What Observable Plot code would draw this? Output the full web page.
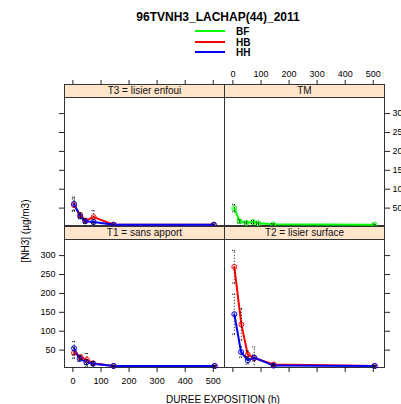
<!DOCTYPE html>
<html>
<head>
<meta charset="utf-8">
<script src="https://cdn.jsdelivr.net/npm/d3@7"></script>
<script src="https://cdn.jsdelivr.net/npm/@observablehq/plot@0.6"></script>
<style>
  html, body { margin: 0; padding: 0; background: #fff; }
  #wrap { position: relative; width: 401px; height: 404px; overflow: hidden; font-family: "Liberation Sans", Arial, sans-serif; color: #000; }
  .abs { position: absolute; }
  .strip { position: absolute; box-sizing: border-box; background: #FFE5CC; border: 1px solid #333; font-size: 10px; text-align: center; color: #111; }
  svg.panel { position: absolute; background: transparent; overflow: visible; }
</style>
</head>
<body>
<div id="wrap"></div>
<script>
// ---- data ----
const xTicks = [0, 100, 200, 300, 400, 500];
const yTicks = [50, 100, 150, 200, 250, 300];
const seriesNames = ["BF", "HB", "HH"];
const seriesColors = ["#00FF00", "#FF0000", "#0000FF"];
const panelNames = ["T3 = lisier enfoui", "TM", "T1 = sans apport", "T2 = lisier surface"];

// T3 = lisier enfoui
const t3HbTime = [4, 26, 44, 74, 145, 502];
const t3HbNh3  = [58, 32, 17, 26, 6, 6];
const t3HbErr  = [16, 6, 5, 17, 2, 2];
const t3HhTime = [4, 26, 44, 74, 145, 502];
const t3HhNh3  = [61, 28, 15, 13, 6, 6];
const t3HhErr  = [18, 6, 5, 8, 2, 2];
// TM
const tmBfTime = [5, 24, 48, 72, 90, 144, 505];
const tmBfNh3  = [50, 15, 11, 13, 10, 7, 6];
const tmBfErr  = [10, 4, 3, 4, 3, 2, 2];
// T1 = sans apport
const t1HbTime = [4, 28, 50, 72, 145, 505];
const t1HbNh3  = [43, 31, 24, 15, 8, 8];
const t1HbErr  = [15, 6, 17, 5, 2, 2];
const t1HhTime = [4, 24, 48, 72, 145, 505];
const t1HhNh3  = [55, 27, 18, 14, 8, 8];
const t1HhErr  = [18, 7, 6, 5, 2, 2];
// T2 = lisier surface
const t2HbTime = [5, 30, 53, 76, 145, 505];
const t2HbNh3  = [270, 118, 38, 29, 12, 8];
const t2HbErr  = [43, 42, 10, 8, 3, 2];
const t2HhTime = [5, 29, 53, 76, 145, 505];
const t2HhNh3  = [145, 45, 23, 30, 9, 8];
const t2HhErr  = [53, 14, 10, 28, 3, 2];

function rows(panel, series, time, nh3, err) {
  return time.map((t, i) => ({panel, series, time: t, nh3: nh3[i], lo: nh3[i] - err[i], hi: nh3[i] + err[i]}));
}
const table = [
  ...rows(panelNames[0], "HB", t3HbTime, t3HbNh3, t3HbErr),
  ...rows(panelNames[0], "HH", t3HhTime, t3HhNh3, t3HhErr),
  ...rows(panelNames[1], "BF", tmBfTime, tmBfNh3, tmBfErr),
  ...rows(panelNames[2], "HB", t1HbTime, t1HbNh3, t1HbErr),
  ...rows(panelNames[2], "HH", t1HhTime, t1HhNh3, t1HhErr),
  ...rows(panelNames[3], "HB", t2HbTime, t2HbNh3, t2HbErr),
  ...rows(panelNames[3], "HH", t2HhTime, t2HhNh3, t2HhErr)
];

// ---- layout ----
const wrap = document.getElementById("wrap");
const PW = 160, PH = 141, STRIP = 13, M = 45;
const layout = [
  {name: panelNames[0], left: 64,  top: 84,  top_: "ticks",  left_: "ticks"},
  {name: panelNames[1], left: 224, top: 84,  top_: "labels", right_: "labels"},
  {name: panelNames[2], left: 64,  top: 226, bottom_: "labels", left_: "labels"},
  {name: panelNames[3], left: 224, top: 226, bottom_: "ticks",  right_: "ticks"}
];

function axisOpts(mode, anchor) {
  return {
    anchor, tickSize: 5,
    tickPadding: anchor === "bottom" ? 5 : anchor === "top" ? 3 : anchor === "left" ? 4 : 3,
    tickFormat: mode === "labels" ? (d => String(d)) : (() => ""),
    label: null, stroke: "#222"
  };
}

for (const p of layout) {
  const data = table.filter(d => d.panel === p.name);
  const marks = [
    Plot.frame({stroke: "#333"}),
    Plot.line(data, {x: "time", y: "nh3", z: "series", stroke: "series", strokeWidth: 2}),
    Plot.dot(data, {x: "time", y: "nh3", stroke: "series", r: 2.5, strokeWidth: 1, fill: "none"}),
    Plot.ruleX(data, {x: "time", y1: "lo", y2: "hi", stroke: "#000", strokeWidth: 1, strokeDasharray: "1,2", clip: true}),
    Plot.ruleY(data, {y: "lo", x1: d => d.time - 6, x2: d => d.time + 6, stroke: "#000", strokeWidth: 1, strokeDasharray: "1,1", clip: true}),
    Plot.ruleY(data, {y: "hi", x1: d => d.time - 6, x2: d => d.time + 6, stroke: "#000", strokeWidth: 1, strokeDasharray: "1,1", clip: true})
  ];
  if (p.top_) marks.push(Plot.axisX(xTicks, axisOpts(p.top_, "top")));
  if (p.bottom_) marks.push(Plot.axisX(xTicks, axisOpts(p.bottom_, "bottom")));
  if (p.left_) marks.push(Plot.axisY(yTicks, axisOpts(p.left_, "left")));
  if (p.right_) marks.push(Plot.axisY(yTicks, axisOpts(p.right_, "right")));
  if (!p.top_ && !p.bottom_) marks.push(Plot.axisX([], {anchor: "bottom", label: null}));
  if (!p.left_ && !p.right_) marks.push(Plot.axisY([], {anchor: "left", label: null}));

  const svg = Plot.plot({
    width: PW + 2 * M, height: PH + 2 * M,
    marginLeft: M, marginRight: M, marginTop: M, marginBottom: M,
    x: {domain: [-30, 540]},
    y: {domain: [4, 377]},
    color: {domain: seriesNames, range: seriesColors},
    style: {fontFamily: "Liberation Sans, Arial, sans-serif", fontSize: "9px", color: "#000", background: "transparent", overflow: "visible"},
    marks
  });
  svg.classList.add("panel");
  svg.style.left = (p.left - M) + "px";
  svg.style.top = (p.top - M) + "px";
  wrap.appendChild(svg);

  const strip = document.createElement("div");
  strip.className = "strip";
  strip.style.left = p.left + "px";
  strip.style.top = p.top + "px";
  strip.style.width = (PW + 1) + "px";
  strip.style.height = (STRIP + 1) + "px";
  strip.style.lineHeight = (STRIP - 1) + "px";
  strip.textContent = p.name;
  wrap.appendChild(strip);
}

// ---- title, legend, axis labels ----
function addText(txt, x, y, css) {
  const d = document.createElement("div");
  d.className = "abs";
  d.textContent = txt;
  d.style.left = x + "px";
  d.style.top = y + "px";
  d.style.whiteSpace = "nowrap";
  Object.assign(d.style, css || {});
  wrap.appendChild(d);
  return d;
}
addText("96TVNH3_LACHAP(44)_2011", 218, 17, {fontSize: "12px", fontWeight: "bold", transform: "translate(-50%,-50%)"});
seriesNames.forEach((s, i) => {
  const y = 31 + i * 10.5;
  const ln = document.createElement("div");
  ln.className = "abs";
  Object.assign(ln.style, {left: "195px", top: (y - 1) + "px", width: "30px", height: "2px", background: seriesColors[i]});
  wrap.appendChild(ln);
  addText(s, 236, y, {fontSize: "10px", fontWeight: "bold", transform: "translate(0,-50%)"});
});
addText("[NH3] (µg/m3)", 25, 231, {fontSize: "10px", transform: "translate(-50%,-50%) rotate(-90deg)"});
addText("DUREE EXPOSITION (h)", 223, 399, {fontSize: "10px", transform: "translate(-50%,-50%)"});
</script>
</body>
</html>
